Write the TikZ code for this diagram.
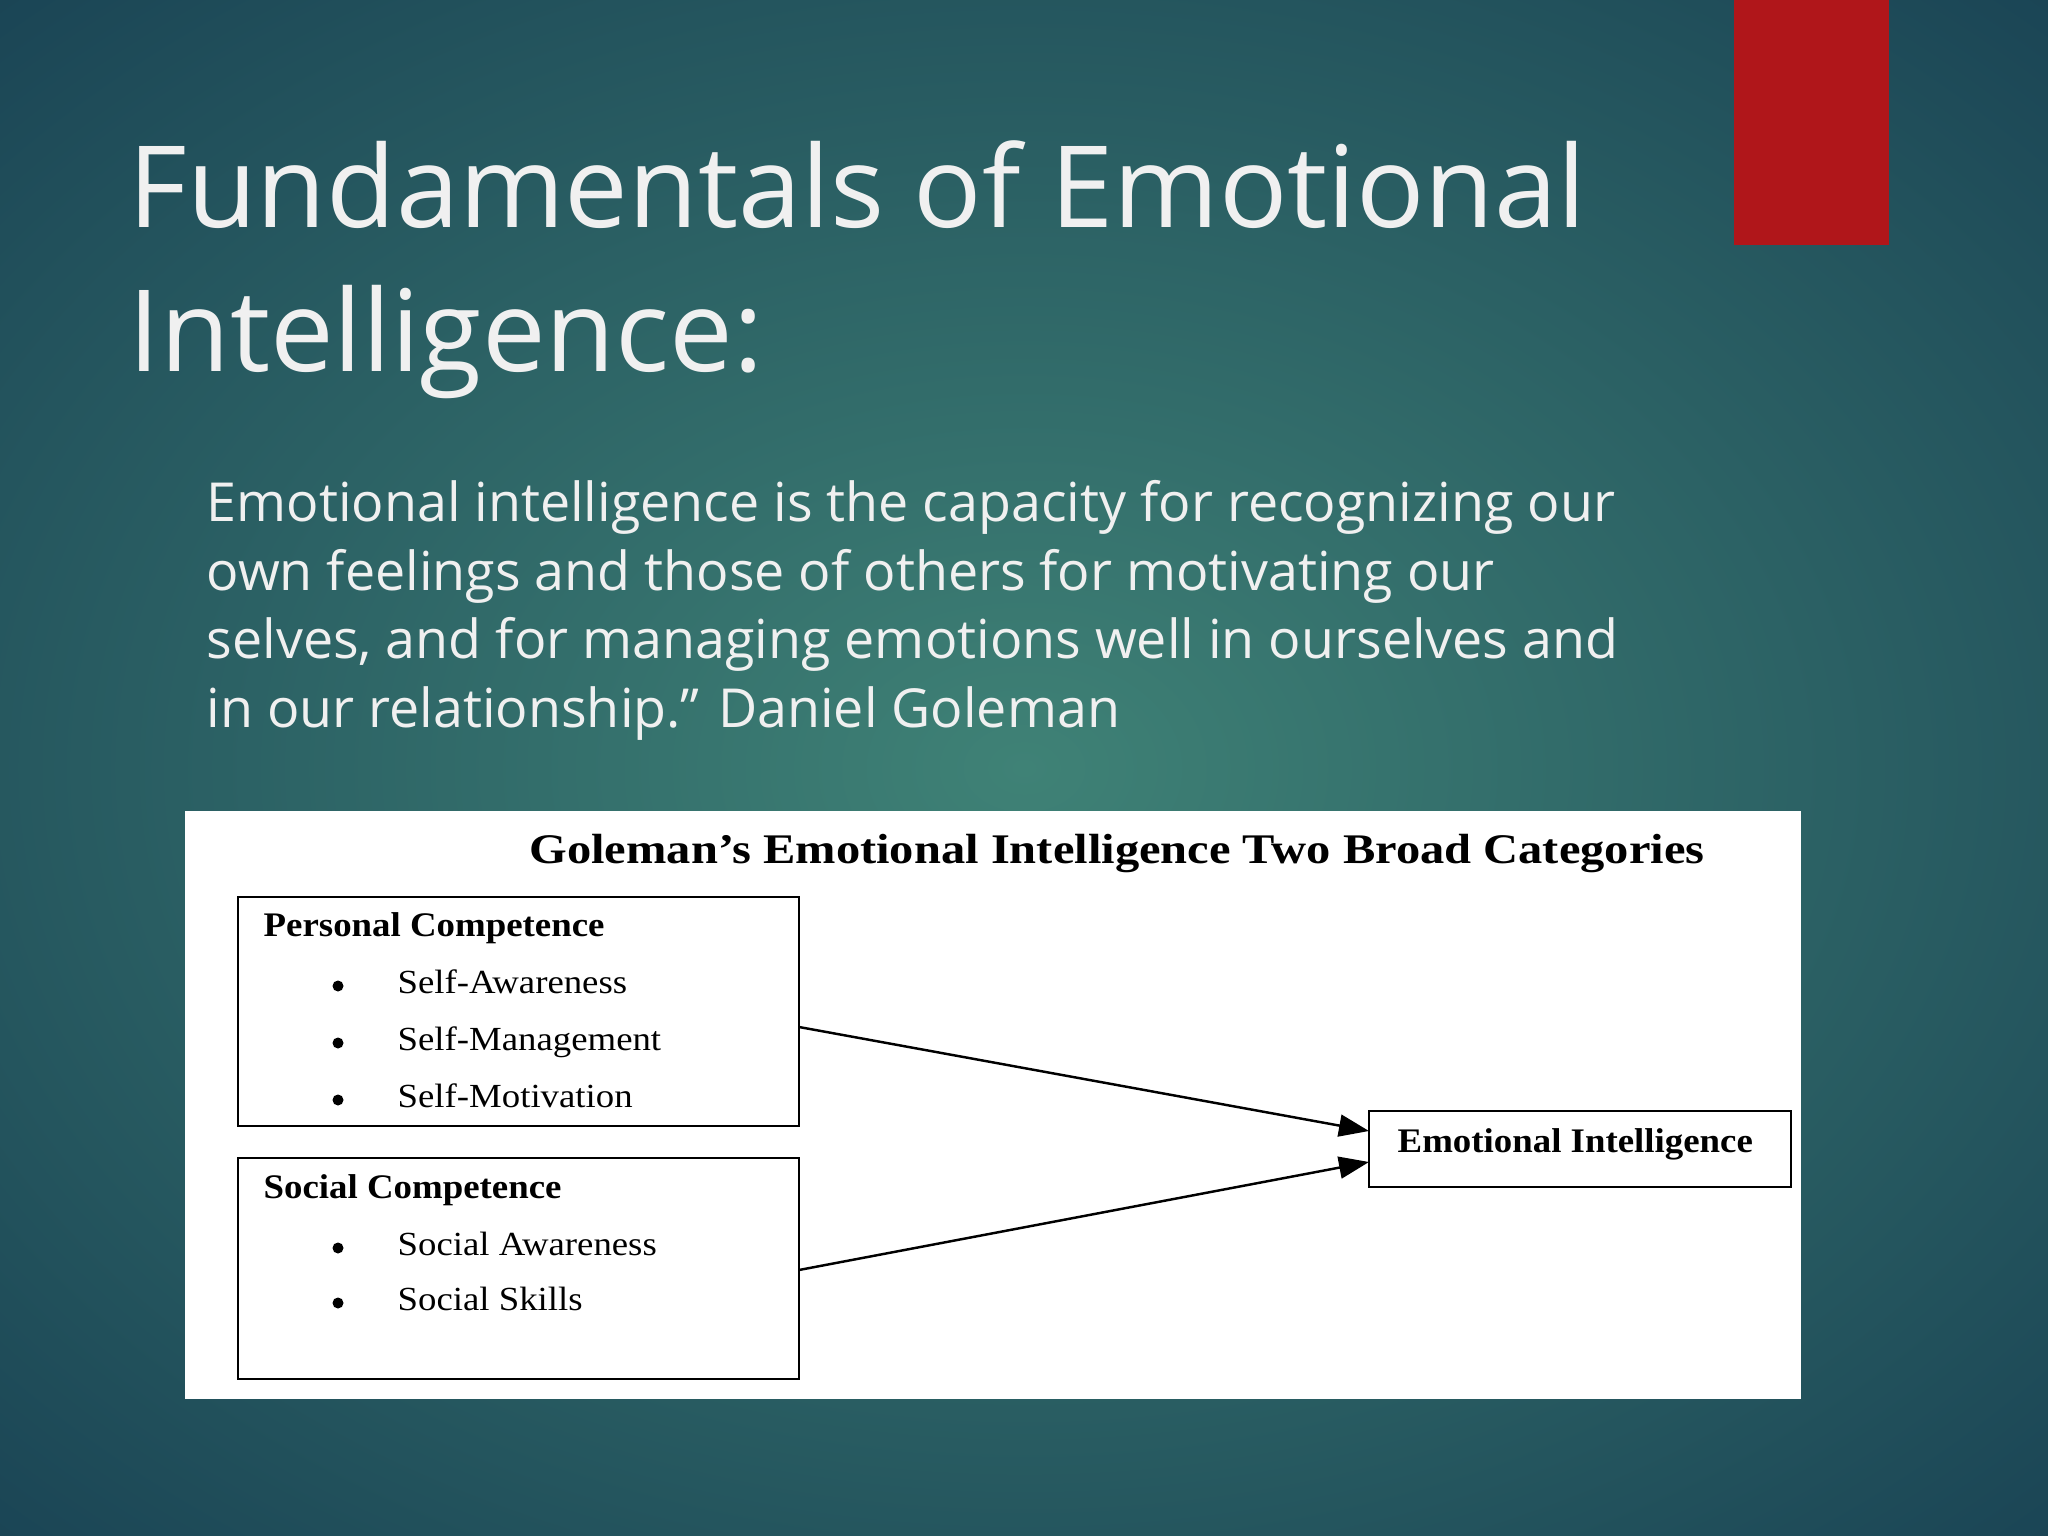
\documentclass[tikz,border=0pt]{standalone}
\usepackage{fontspec}
\setmainfont{Open Sans}
\newfontfamily\serf[FakeStretch=1.09]{Liberation Serif}
\newfontfamily\serfh[FakeStretch=1.15]{Liberation Serif}
\newfontfamily\serfb[FakeStretch=1.07]{Liberation Serif}
\usetikzlibrary{arrows.meta}
\definecolor{bgin}{HTML}{3F8276}
\definecolor{bgout}{HTML}{173F52}
\definecolor{redbar}{HTML}{B0161A}
\definecolor{txt}{HTML}{F0F0F0}
\tikzset{
 boxst/.style={draw=black,line width=0.8pt,fill=white},
 item/.style={anchor=base west,font=\serf\fontsize{9.6}{11}\selectfont,inner sep=0},
 bul/.style={circle,fill=black,inner sep=0,minimum size=0.11cm},
 hd/.style={anchor=base west,font=\serfb\bfseries\fontsize{9.8}{12}\selectfont,inner sep=0},
 arr/.style={line width=0.7pt,-{Triangle[length=0.3cm,width=0.22cm]}}
}
\begin{document}
\begin{tikzpicture}[x=1cm,y=-1cm]
\useasboundingbox (0,0) rectangle (20.48,15.36);
\shade[inner color=bgin,outer color=bgout] (-6,-4) rectangle (26.48,19.36);
\clip (0,0) rectangle (20.48,15.36);
\fill[redbar] (17.34,0) rectangle (18.89,2.45);
\node[anchor=base west,text=txt,font=\fontsize{32.3}{40}\selectfont,inner sep=0] (t1) at (1.28,2.28) {Fundamentals of Emotional};
\node[anchor=base west,text=txt,font=\fontsize{32.3}{40}\selectfont,inner sep=0] (t2) at (1.28,3.72) {Intelligence:};
\foreach \t [count=\i] in {Emotional intelligence is the capacity for recognizing our,own feelings and those of others for motivating our,{selves, and for managing emotions well in ourselves and},in our relationship.” Daniel Goleman}
 \node[anchor=base west,text=txt,font=\fontsize{15.3}{19}\selectfont,inner sep=0] (b\i) at (2.06,{5.22+(\i-1)*0.685}) {\t};
\fill[white] (1.85,8.11) rectangle (18.01,13.99);
\node[anchor=base,font=\serfh\bfseries\fontsize{12}{14}\selectfont,inner sep=0] (head) at (11.17,8.64) {Goleman’s Emotional Intelligence Two Broad Categories};
\draw[boxst] (2.38,8.97) rectangle (7.99,11.26);
\coordinate (p1) at (7.99,10.27);
\node[hd] (ph) at (2.63,9.37) {Personal Competence};
\foreach \t [count=\i] in {Self-Awareness,Self-Management,Self-Motivation}{
 \node[bul] (pb\i) at (3.38,{9.86+(\i-1)*0.57}) {};
 \node[item] (pi\i) at (3.97,{9.93+(\i-1)*0.57}) {\t};}
\draw[boxst] (2.38,11.58) rectangle (7.99,13.79);
\coordinate (p2) at (7.99,12.70);
\node[hd] (sh) at (2.63,11.98) {Social Competence};
\foreach \t [count=\i] in {Social Awareness,Social Skills}{
 \node[bul] (sb\i) at (3.38,{12.48+(\i-1)*0.55}) {};
 \node[item] (si\i) at (3.97,{12.55+(\i-1)*0.55}) {\t};}
\draw[boxst] (13.69,11.11) rectangle (17.91,11.87);
\node[hd] (ei) at (13.97,11.52) {Emotional Intelligence};
\coordinate (e1) at (13.69,11.31);
\coordinate (e2) at (13.69,11.62);
\draw[arr] (p1) -- (e1);
\draw[arr] (p2) -- (e2);
\end{tikzpicture}
\end{document}
